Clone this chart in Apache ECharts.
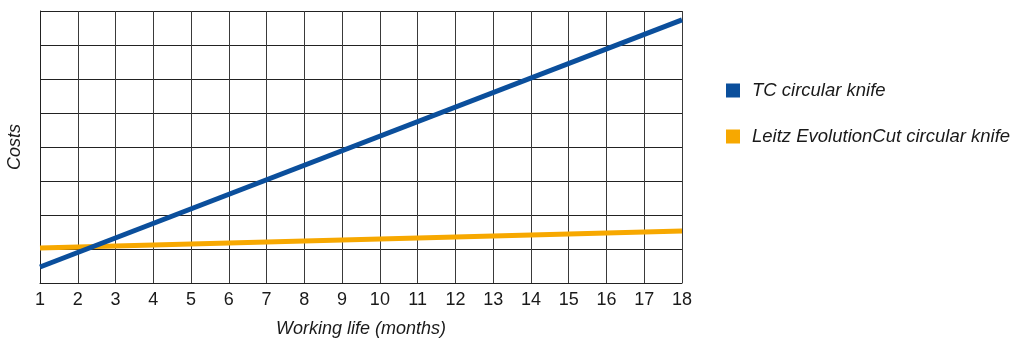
<!DOCTYPE html>
<html>
<head>
<meta charset="utf-8">
<script src="https://cdn.jsdelivr.net/npm/echarts@6/dist/echarts.min.js"></script>
<style>html,body{margin:0;padding:0;background:#fff;}#c{width:1016px;height:340px;}</style>
</head>
<body>
<div id="c"></div>
<script>
const months = [1, 18];
const tcCosts = [0.47, 7.74];
const leitzCosts = [1.03, 1.53];
const seriesNames = ['TC circular knife', 'Leitz EvolutionCut circular knife'];
const xAxisName = 'Working life (months)';
const yAxisName = 'Costs';

const font = 'Liberation Sans, Arial, Helvetica, sans-serif';
const chart = echarts.init(document.getElementById('c'), null, {renderer: 'canvas'});
chart.setOption({
  animation: false,
  backgroundColor: '#fff',
  grid: {left: 40, right: 334, top: 11, bottom: 57, containLabel: false, outerBoundsMode: 'none'},
  legend: {
    orient: 'vertical', left: 726, top: 81, padding: 0,
    itemWidth: 14, itemHeight: 14, itemGap: 27,
    icon: 'rect',
    textStyle: {fontFamily: font, fontSize: 18.5, fontStyle: 'italic', color: '#1a1a1a', padding: [0, 0, 0, 7]},
    data: seriesNames
  },
  xAxis: {
    type: 'value', min: 1, max: 18, interval: 1,
    name: xAxisName, nameLocation: 'middle', nameGap: 37,
    nameTextStyle: {fontFamily: font, fontSize: 18, fontStyle: 'italic', color: '#1a1a1a'},
    axisLine: {show: true, lineStyle: {color: '#222', width: 1}},
    axisTick: {show: false},
    axisLabel: {fontFamily: font, fontSize: 18, color: '#1a1a1a', margin: 8},
    splitLine: {show: true, lineStyle: {color: '#3a3a3a', width: 1}}
  },
  yAxis: {
    type: 'value', min: 0, max: 8, interval: 1,
    name: yAxisName, nameLocation: 'middle', nameGap: 16, nameRotate: 90,
    nameTextStyle: {fontFamily: font, fontSize: 18, fontStyle: 'italic', color: '#1a1a1a'},
    axisLine: {show: true, lineStyle: {color: '#222', width: 1}},
    axisTick: {show: false},
    axisLabel: {show: false},
    splitLine: {show: true, lineStyle: {color: '#222', width: 1}}
  },
  series: [
    {
      name: seriesNames[0], type: 'line', showSymbol: false, symbol: 'none', z: 4,
      data: months.map((m, i) => [m, tcCosts[i]]),
      lineStyle: {color: '#0b4f9c', width: 5},
      itemStyle: {color: '#0b4f9c'}
    },
    {
      name: seriesNames[1], type: 'line', showSymbol: false, symbol: 'none', z: 3,
      data: months.map((m, i) => [m, leitzCosts[i]]),
      lineStyle: {color: '#f7a800', width: 5},
      itemStyle: {color: '#f7a800'}
    }
  ]
});
</script>
</body>
</html>
